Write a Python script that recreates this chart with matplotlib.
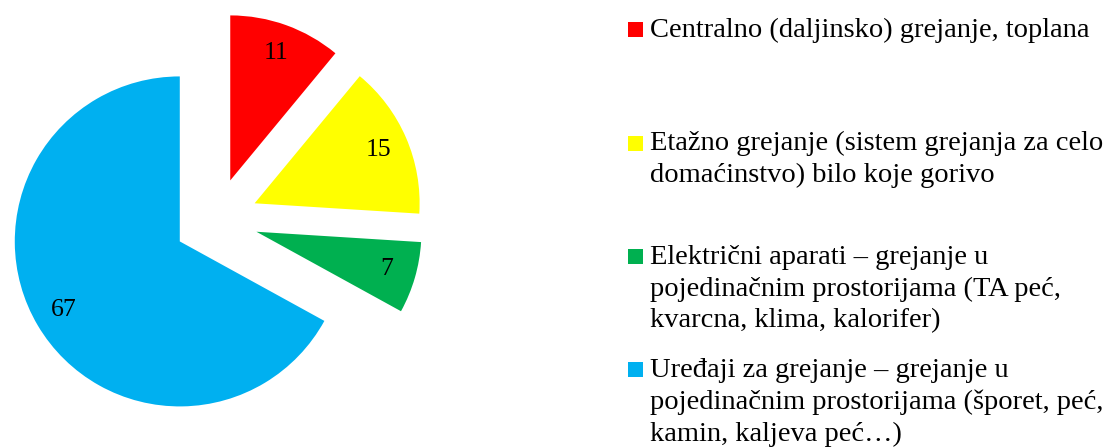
import matplotlib
matplotlib.use("Agg")
import matplotlib.pyplot as plt
from matplotlib.patches import Rectangle

# heating type shares (%)
values = [11, 15, 7, 67]
colors = ["#FF0000", "#FFFF00", "#00B050", "#00B0F0"]
labels = [
    ["Centralno (daljinsko) grejanje, toplana"],
    ["Etažno grejanje (sistem grejanja za celo", "domaćinstvo) bilo koje gorivo"],
    ["Električni aparati – grejanje u", "pojedinačnim prostorijama (TA peć,", "kvarcna, klima, kalorifer)"],
    ["Uređaji za grejanje – grejanje u", "pojedinačnim prostorijama (šporet, peć,", "kamin, kaljeva peć…)"],
]

W, H, DPI = 1111, 448, 100
fig = plt.figure(figsize=(W / DPI, H / DPI), dpi=DPI)
ax = fig.add_axes([0, 0, 1, 1])

wedges, texts, autotexts = ax.pie(
    values, colors=colors, startangle=90, counterclock=False,
    explode=[0.255] * len(values), radius=1,
    autopct=lambda p: "%d" % round(p), pctdistance=0.82,
    wedgeprops=dict(linewidth=0),
    textprops=dict(family="Liberation Serif", fontsize=18.5, color="black"),
)

# 165 px per data unit, pie centre at (216, 220) px from top-left
R = 165.0
cx, cy = 216, 220
ax.set_xlim(-cx / R, (W - cx) / R)
ax.set_ylim(-(H - cy) / R, cy / R)
ax.axis("off")

# legend drawn by hand to get Excel-like wrapping
fs = 20.5
step = 113.3
for i, (col, lines) in enumerate(zip(colors, labels)):
    yc = 30 + step * i
    fig.patches.append(Rectangle((628 / W, 1 - (yc + 7.5) / H), 15 / W, 15 / H,
                                 transform=fig.transFigure, facecolor=col,
                                 edgecolor="none"))
    for j, line in enumerate(lines):
        yb = yc + 7 + 32 * j
        fig.text(650 / W, 1 - yb / H, line, family="Liberation Serif",
                 fontsize=fs, va="baseline", ha="left", color="black")

fig.savefig("out.png", dpi=DPI)
